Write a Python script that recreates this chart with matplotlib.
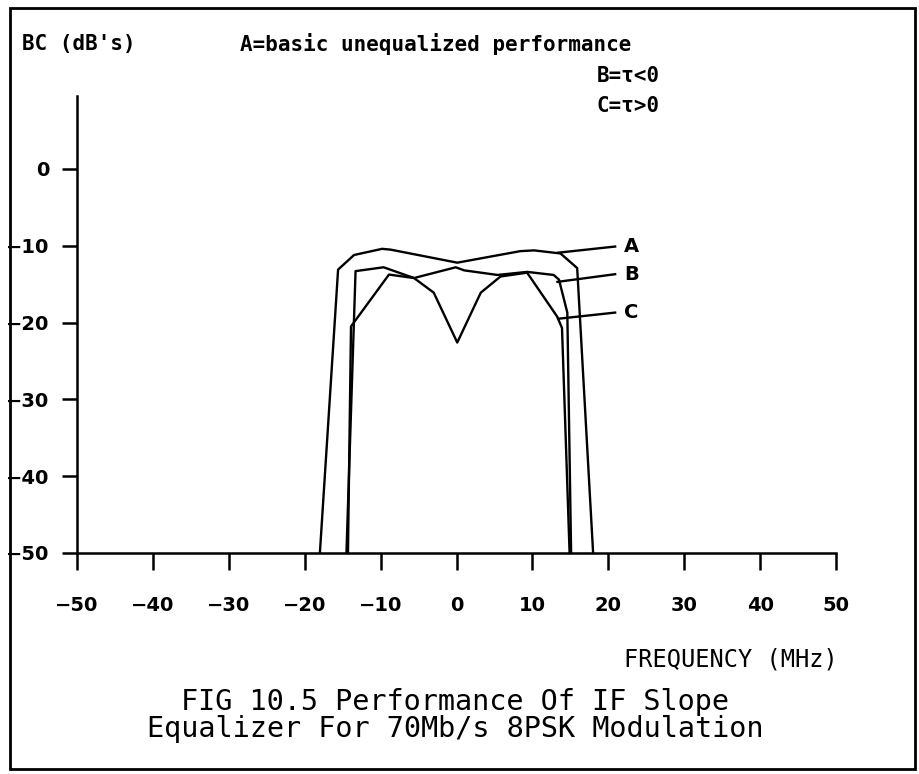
import matplotlib
matplotlib.use("Agg")
import matplotlib.pyplot as plt
from matplotlib.patches import Rectangle

# Frequency (MHz) and BC (dB) for each equalizer case
freq_a = [-18.0, -15.6, -13.5, -9.8, -8.7, 0.1, 8.4, 10.2, 13.7, 15.9, 18.0]
bc_a = [-50.0, -13.1, -11.2, -10.4, -10.5, -12.2, -10.7, -10.6, -11.0, -12.9, -50.0]

freq_b = [-14.5, -13.3, -9.6, -5.6, -0.1, 1.0, 5.4, 9.3, 12.8, 13.5, 14.6, 15.1]
bc_b = [-50.0, -13.3, -12.8, -14.2, -12.8, -13.2, -13.8, -13.4, -13.8, -14.4, -18.7, -50.0]

freq_c = [-14.3, -13.9, -8.9, -5.6, -3.0, 0.1, 3.2, 5.8, 9.3, 13.25, 13.9, 14.9]
bc_c = [-50.0, -20.5, -13.75, -14.2, -16.1, -22.6, -16.1, -14.0, -13.5, -19.2, -20.7, -50.0]

curve_labels = ["A", "B", "C"]
leader_start_f = [13.4, 13.3, 13.4]
leader_start_db = [-10.9, -14.7, -19.5]
leader_end_f = [20.9, 20.9, 20.9]
leader_end_db = [-10.1, -13.7, -18.7]

x_ticks = [-50, -40, -30, -20, -10, 0, 10, 20, 30, 40, 50]
y_ticks = [0, -10, -20, -30, -40, -50]


def tick_text(v):
    return str(v).replace("-", "\u2212")


W, H = 919, 774
fig = plt.figure(figsize=(W / 100, H / 100), dpi=100)
fig.patch.set_facecolor("white")

# outer box around the whole figure
fig.patches.append(Rectangle((10 / W, 1 - 769 / H), 905 / W, 761 / H,
                             transform=fig.transFigure, fill=False,
                             edgecolor="black", linewidth=2.0))

ax = fig.add_axes([77 / W, 1 - 553 / H, 759 / W, (553 - 96) / H])
ax.set_xlim(-50, 50)
ax.set_ylim(-50, 9.5)
for side in ("top", "right"):
    ax.spines[side].set_visible(False)
for side in ("left", "bottom"):
    ax.spines[side].set_linewidth(1.8)

lw = 1.7
ax.plot(freq_a, bc_a, color="black", linewidth=lw, clip_on=False)
ax.plot(freq_b, bc_b, color="black", linewidth=lw, clip_on=False)
ax.plot(freq_c, bc_c, color="black", linewidth=lw, clip_on=False)

for lab, f0, d0, f1, d1 in zip(curve_labels, leader_start_f, leader_start_db,
                               leader_end_f, leader_end_db):
    ax.plot([f0, f1], [d0, d1], color="black", linewidth=lw)
    ax.text(f1 + 1.2, d1, lab, ha="left", va="center",
            fontsize=14, fontweight="bold", family="DejaVu Sans")

ax.set_xticks(x_ticks)
ax.set_xticklabels([tick_text(v) for v in x_ticks])
ax.set_yticks(y_ticks)
ax.set_yticklabels([tick_text(v) for v in y_ticks])
ax.tick_params(axis="x", direction="out", length=12, width=1.8, pad=19,
               labelsize=14)
ax.tick_params(axis="y", direction="out", length=11, width=1.8, pad=9,
               labelsize=14)
for t in ax.get_xticklabels() + ax.get_yticklabels():
    t.set_fontweight("bold")

top_font = dict(fontsize=15, fontweight="bold", family="DejaVu Sans Mono")
fig.text(22 / W, 1 - 44 / H, "BC (dB's)", ha="left", va="center", **top_font)
fig.text(240 / W, 1 - 44 / H, "A=basic unequalized performance",
         ha="left", va="center", **top_font)
fig.text(660 / W, 1 - 76 / H, "B=\u03c4<0", ha="right", va="center",
         **top_font)
fig.text(660 / W, 1 - 106 / H, "C=\u03c4>0", ha="right", va="center",
         **top_font)

fig.text(838 / W, 1 - 659 / H, "FREQUENCY (MHz)", ha="right", va="center",
         fontsize=17, family="DejaVu Sans Mono")
fig.text(455 / W, 1 - 702 / H, "FIG 10.5 Performance Of IF Slope",
         ha="center", va="center", fontsize=20.5, family="DejaVu Sans Mono")
fig.text(455 / W, 1 - 729 / H, "Equalizer For 70Mb/s 8PSK Modulation",
         ha="center", va="center", fontsize=20.5, family="DejaVu Sans Mono")

fig.savefig("out.png", dpi=100, facecolor="white")
